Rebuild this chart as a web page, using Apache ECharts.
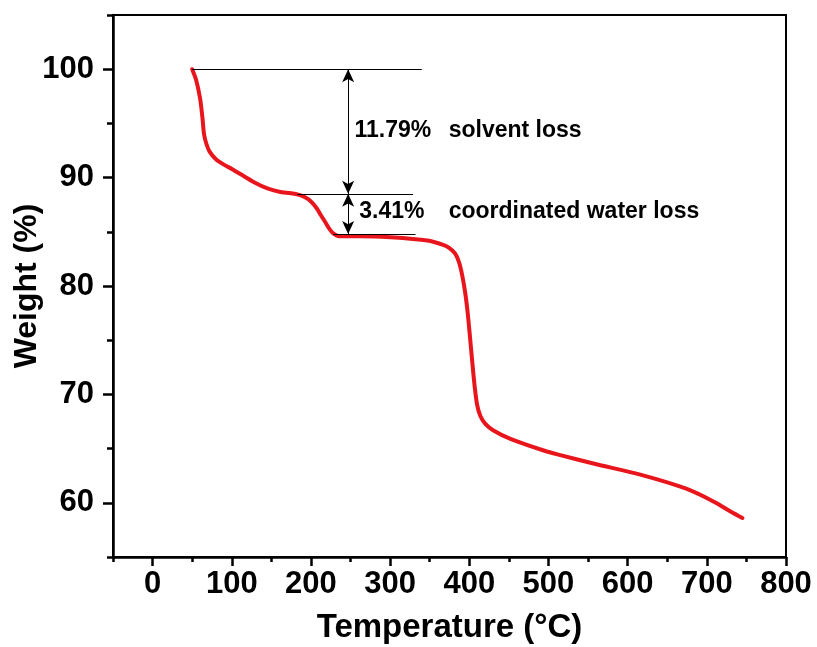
<!DOCTYPE html>
<html>
<head>
<meta charset="utf-8">
<script src="https://cdn.jsdelivr.net/npm/echarts@6/dist/echarts.min.js"></script>
<style>html,body{margin:0;padding:0;background:#fff}#c{width:817px;height:647px}</style>
</head>
<body>
<div id="c"></div>
<script>
// Temperature (°C) and weight (%)
const temps = [50,55,60,63,65,68,72,80,90,100,115,130,145,160,175,185,192,200,207,212,218,224,229,235,262,300,347,367,375,382,387,391,395,398,401,404,407,410,414,420,430,452,495,515,558,616,674,709,730,745];
const weights = [100.0,99.0,97.3,95.5,94.0,93.1,92.4,91.7,91.2,90.8,90.15,89.5,89.0,88.7,88.55,88.4,88.2,87.8,87.2,86.6,85.9,85.2,84.8,84.6,84.6,84.5,84.2,83.8,83.5,83.0,82.2,81.0,79.3,77.5,75.2,72.8,70.6,69.0,68.0,67.3,66.7,65.9,64.8,64.4,63.6,62.6,61.3,60.1,59.2,58.6];

const xMajorTicks = [0,100,200,300,400,500,600,700,800];
const yMajorTicks = [60,70,80,90,100];

// Step levels (weight %) used by the annotation
const levelStart = 100.0;
const levelSolvent = 88.5;
const levelWater = 84.8;
// annotation extents (temperature)
const guideTop = [50, 340];
const guideMid = [183, 329];
const guideLow = [228, 332];
const arrowT = 247;
const annotTexts = [
  {name: '11.79%', value: [255, 94.3]},
  {name: 'solvent loss', value: [374, 94.3]},
  {name: '3.41%', value: [261, 86.85]},
  {name: 'coordinated water loss', value: [374, 86.85]}
];

const FONT = "'Liberation Sans', Arial, Helvetica, sans-serif";
const chart = echarts.init(document.getElementById('c'), null, {renderer: 'canvas'});

chart.setOption({
  animation: false,
  backgroundColor: '#fff',
  grid: {left: 113, right: 31, top: 15, bottom: 90, containLabel: false, outerBoundsMode: 'none',
         show: true, borderColor: '#000', borderWidth: 2, backgroundColor: 'transparent'},
  xAxis: [
    {
      type: 'value', min: -50, max: 800, position: 'bottom',
      name: 'Temperature (°C)', nameLocation: 'middle', nameGap: 54, nameMoveOverlap: false,
      nameTextStyle: {fontFamily: FONT, fontWeight: 'bold', fontSize: 33, color: '#000'},
      axisLine: {show: true, onZero: false, lineStyle: {color: '#000', width: 2.5}},
      axisTick: {show: true, inside: false, length: 9, customValues: xMajorTicks, lineStyle: {color: '#000', width: 2.5}},
      axisLabel: {customValues: xMajorTicks, margin: 12, fontFamily: FONT, fontWeight: 'bold', fontSize: 31, color: '#000'},
      splitLine: {show: false}
    },
    {
      type: 'value', min: -50, max: 800, interval: 50, position: 'bottom',
      axisLine: {show: false, onZero: false},
      axisTick: {show: true, inside: false, length: 5, lineStyle: {color: '#000', width: 2.5}},
      axisLabel: {show: false},
      splitLine: {show: false}
    }
  ],
  yAxis: [
    {
      type: 'value', min: 55, max: 105, position: 'left',
      name: 'Weight (%)', nameLocation: 'middle', nameGap: 70, nameRotate: 90, nameMoveOverlap: false,
      nameTextStyle: {fontFamily: FONT, fontWeight: 'bold', fontSize: 32, color: '#000'},
      axisLine: {show: true, onZero: false, lineStyle: {color: '#000', width: 2.5}},
      axisTick: {show: true, inside: false, length: 10, customValues: yMajorTicks, lineStyle: {color: '#000', width: 2.5}},
      axisLabel: {customValues: yMajorTicks, margin: 19, fontFamily: FONT, fontWeight: 'bold', fontSize: 31, color: '#000'},
      splitLine: {show: false}
    },
    {
      type: 'value', min: 55, max: 105, interval: 5, position: 'left',
      axisLine: {show: false, onZero: false},
      axisTick: {show: true, inside: false, length: 6, lineStyle: {color: '#000', width: 2.5}},
      axisLabel: {show: false},
      splitLine: {show: false}
    }
  ],
  series: [
    {
      type: 'line',
      data: temps.map((t, i) => [t, weights[i]]),
      xAxisIndex: 0, yAxisIndex: 0,
      showSymbol: false, symbol: 'none',
      smooth: 0.3,
      lineStyle: {color: '#e8161c', width: 4, cap: 'round', join: 'round'},
      z: 3
    },
    {
      type: 'line', data: [], xAxisIndex: 0, yAxisIndex: 0,
      markLine: {
        silent: true, symbol: ['none', 'none'], animation: false,
        label: {show: false},
        lineStyle: {color: '#000', width: 1, type: 'solid'},
        data: [
          [{coord: [guideTop[0], levelStart]}, {coord: [guideTop[1], levelStart]}],
          [{coord: [guideMid[0], levelSolvent]}, {coord: [guideMid[1], levelSolvent]}],
          [{coord: [guideLow[0], levelWater]}, {coord: [guideLow[1], levelWater]}]
        ]
      }
    },
    {
      type: 'line', data: [], xAxisIndex: 0, yAxisIndex: 0,
      markLine: {
        silent: true, symbol: ['arrow', 'arrow'], symbolSize: [9, 13], animation: false,
        label: {show: false},
        lineStyle: {color: '#000', width: 1, type: 'solid'},
        itemStyle: {color: '#000'},
        data: [
          [{coord: [arrowT, levelStart]}, {coord: [arrowT, levelSolvent]}],
          [{coord: [arrowT, levelSolvent]}, {coord: [arrowT, levelWater]}]
        ]
      }
    },
    {
      type: 'scatter', xAxisIndex: 0, yAxisIndex: 0,
      symbolSize: 0,
      itemStyle: {opacity: 1, color: '#000'},
      data: annotTexts,
      label: {
        show: true, position: 'right', distance: 0,
        formatter: p => p.name,
        fontFamily: FONT, fontWeight: 'bold', fontSize: 23, color: '#000', opacity: 1
      },
      z: 4
    }
  ]
});
</script>
</body>
</html>
